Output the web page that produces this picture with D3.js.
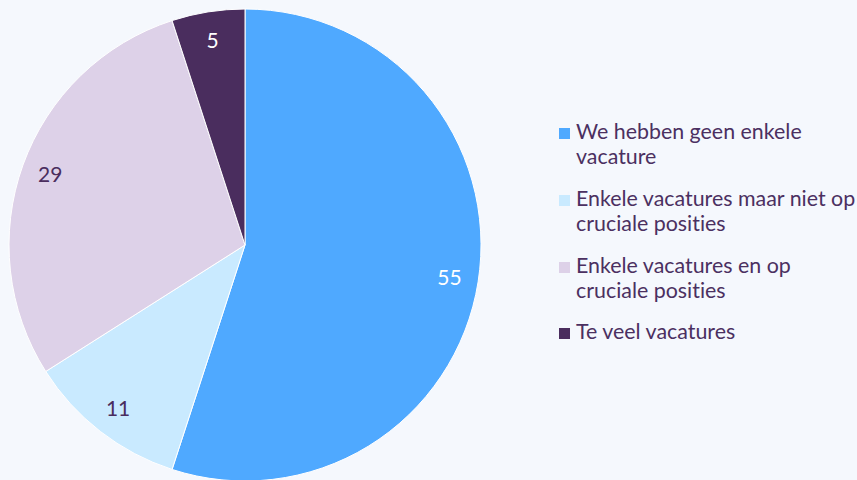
<!DOCTYPE html>
<html>
<head>
<meta charset="utf-8">
<style type="text/css">
body { margin: 0; background: #f5f8fd; }
text { font-family: Lato, sans-serif; font-variant-ligatures: none; font-feature-settings: "liga" 0; }
</style>
</head>
<body>
<script src="https://d3js.org/d3.v7.min.js"></script>
<script>
  // data (percentages)
  var categories = [
    "We hebben geen enkele vacature",
    "Enkele vacatures maar niet op cruciale posities",
    "Enkele vacatures en op cruciale posities",
    "Te veel vacatures"
  ];
  var values = [55, 11, 29, 5];
  var colors = ["#4fa9ff", "#c9eaff", "#ddd1e8", "#4a2d5e"];
  var labelColors = ["#ffffff", "#4a2d5e", "#4a2d5e", "#ffffff"];

  var width = 857, height = 480;
  var cx = 245, cy = 245, radius = 236;
  var textColor = "#4b3061";

  var svg = d3.select("body").append("svg")
      .attr("width", width)
      .attr("height", height)
      .style("display", "block");

  svg.append("rect")
      .attr("width", width).attr("height", height)
      .attr("fill", "#f5f8fd");

  var pie = d3.pie().sort(null).value(function(d){ return d; });
  var arcs = pie(values);

  var arc = d3.arc().innerRadius(0).outerRadius(radius);
  var labelArc = d3.arc().innerRadius(207).outerRadius(207);

  var g = svg.append("g")
      .attr("transform", "translate(" + cx + "," + cy + ")");

  g.selectAll("path.slice")
      .data(arcs)
    .enter().append("path")
      .attr("class", "slice")
      .attr("d", arc)
      .attr("fill", function(d, i){ return colors[i]; })
      .attr("stroke", "#ffffff")
      .attr("stroke-width", 1);

  g.selectAll("text.lbl")
      .data(arcs)
    .enter().append("text")
      .attr("class", "lbl")
      .attr("transform", function(d){ return "translate(" + labelArc.centroid(d) + ")"; })
      .attr("text-anchor", "middle")
      .attr("dy", "0.35em")
      .style("font-size", "21px")
      .attr("fill", function(d, i){ return labelColors[i]; })
      .text(function(d){ return d.data; });

  // legend
  var legend = svg.append("g").attr("transform", "translate(559,0)");
  var itemTop = [139, 206, 273, 339];
  var maxW = 286;

  categories.forEach(function(label, i){
    var item = legend.append("g").attr("transform", "translate(0," + itemTop[i] + ")");
    item.append("rect")
        .attr("x", 0).attr("y", -11)
        .attr("width", 11).attr("height", 11)
        .attr("fill", colors[i]);
    var t = item.append("text")
        .attr("x", 17)
        .attr("fill", textColor)
        .style("font-size", "21.4px");
    // simple word wrap
    var words = label.split(" "), line = [], lineNo = 0;
    var tspan = t.append("tspan").attr("x", 17).attr("y", 0);
    words.forEach(function(w){
      line.push(w);
      tspan.text(line.join(" "));
      if (tspan.node().getComputedTextLength() > maxW && line.length > 1) {
        line.pop();
        tspan.text(line.join(" "));
        line = [w];
        lineNo++;
        tspan = t.append("tspan").attr("x", 17).attr("y", lineNo * 25).text(w);
      }
    });
  });
</script>
</body>
</html>
